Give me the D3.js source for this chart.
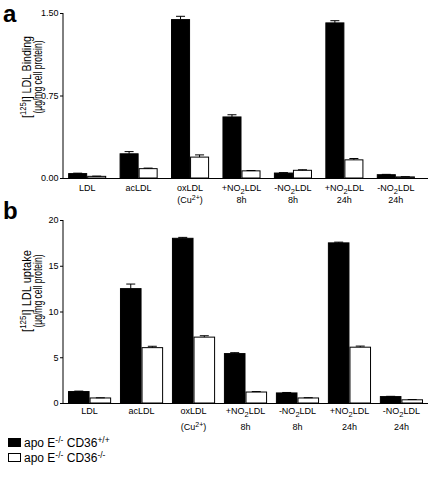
<!DOCTYPE html>
<html><head><meta charset="utf-8">
<script src="https://cdn.jsdelivr.net/npm/d3@7"></script>
<style>
body{margin:0;background:#fff;}
svg{font-family:"Liberation Sans",Arial,Helvetica,sans-serif;}
</style></head>
<body><svg id="c" width="430" height="488"></svg>
<script>
const categories = [
  {pre:"LDL", sub:"", post:"", line2:"", sup2:""},
  {pre:"acLDL", sub:"", post:"", line2:"", sup2:""},
  {pre:"oxLDL", sub:"", post:"", line2:"(Cu", sup2:"2+", line2post:")"},
  {pre:"+NO", sub:"2", post:"LDL", line2:"8h"},
  {pre:"-NO", sub:"2", post:"LDL", line2:"8h"},
  {pre:"+NO", sub:"2", post:"LDL", line2:"24h"},
  {pre:"-NO", sub:"2", post:"LDL", line2:"24h"}
];
const seriesNames = ["CD36+/+", "CD36-/-"];

// Panel a: [125I] LDL Binding
const bindingWT  = [0.04, 0.22, 1.44, 0.555, 0.045, 1.41, 0.03];
const bindingWTErr = [0.004, 0.02, 0.03, 0.02, 0.004, 0.02, 0.003];
const bindingKO  = [0.015, 0.085, 0.19, 0.065, 0.07, 0.165, 0.01];
const bindingKOErr = [0.002, 0.005, 0.02, 0.003, 0.005, 0.012, 0.002];
const ticksA = [0, 0.75, 1.5];

// Panel b: [125I] LDL uptake
const uptakeWT  = [1.25, 12.5, 18.0, 5.4, 1.1, 17.5, 0.7];
const uptakeWTErr = [0.05, 0.5, 0.1, 0.1, 0.05, 0.08, 0.03];
const uptakeKO  = [0.55, 6.05, 7.2, 1.2, 0.55, 6.1, 0.35];
const uptakeKOErr = [0.02, 0.15, 0.15, 0.05, 0.03, 0.12, 0.03];
const ticksB = [0, 5, 10, 15, 20];

const svg = d3.select("#c");

function fitRotated(sel, x, y, target){
  const w = sel.node().getComputedTextLength();
  const sx = target / w;
  sel.attr("transform",`translate(${x},${y}) rotate(-90) scale(${sx},1)`);
}

function panel(cfg){
  const g = svg.append("g");
  const y = d3.scaleLinear().domain(cfg.domain).range([cfg.y0, cfg.y1]);
  const x = d3.scaleBand().domain(d3.range(categories.length))
      .range(cfg.xrange).paddingInner(cfg.pin).paddingOuter(cfg.pout);
  const xs = d3.scaleBand().domain([0,1]).range([0, x.bandwidth()]);
  const axisX = 63;

  const series = [{v:cfg.wt, e:cfg.wtErr, fill:"#000"},{v:cfg.ko, e:cfg.koErr, fill:"#fff"}];
  series.forEach((s, si) => {
    const grp = g.append("g");
    grp.selectAll("rect").data(s.v).join("rect")
      .attr("x", (d,i)=>x(i)+xs(si)+0.5)
      .attr("y", d=>y(d))
      .attr("width", xs.bandwidth()-1)
      .attr("height", d=>y(0)-y(d))
      .attr("fill", s.fill).attr("stroke","#000").attr("stroke-width",1);
    grp.selectAll("line.err").data(s.v).join("line").attr("class","err")
      .attr("x1",(d,i)=>x(i)+xs(si)+xs.bandwidth()/2)
      .attr("x2",(d,i)=>x(i)+xs(si)+xs.bandwidth()/2)
      .attr("y1",d=>y(d)).attr("y2",(d,i)=>y(d+s.e[i]))
      .attr("stroke","#000").attr("stroke-width",1);
    grp.selectAll("line.cap").data(s.v).join("line").attr("class","cap")
      .attr("x1",(d,i)=>x(i)+xs(si)+xs.bandwidth()/2-4.5)
      .attr("x2",(d,i)=>x(i)+xs(si)+xs.bandwidth()/2+4.5)
      .attr("y1",(d,i)=>y(d+s.e[i])).attr("y2",(d,i)=>y(d+s.e[i]))
      .attr("stroke","#000").attr("stroke-width",1);
  });

  const ax = d3.axisLeft(y).tickValues(cfg.ticks).tickFormat(cfg.fmt).tickSize(3).tickPadding(1.5);
  const ag = g.append("g").attr("transform",`translate(${axisX},0)`).call(ax);
  ag.select(".domain").attr("d",`M0,${cfg.y1}V${cfg.y0}`);
  ag.selectAll("text").attr("font-size",9).attr("font-family","Liberation Sans, Arial, sans-serif");

  g.append("line").attr("x1",axisX).attr("x2",428).attr("y1",y(0)+0.5).attr("y2",y(0)+0.5)
    .attr("stroke","#000").attr("stroke-width",1);

  categories.forEach((c,i)=>{
    const cx = x(i)+x.bandwidth()/2;
    const t = g.append("text").attr("x",cx).attr("y",cfg.lab1).attr("text-anchor","middle").attr("font-size",9);
    t.append("tspan").text(c.pre);
    if(c.sub){ t.append("tspan").attr("dy",2.5).attr("font-size",7.5).text(c.sub);
               t.append("tspan").attr("dy",-2.5).text(c.post); }
    if(c.line2){
      const t2 = g.append("text").attr("x",cx).attr("y",cfg.lab2).attr("text-anchor","middle").attr("font-size",9);
      t2.append("tspan").text(c.line2);
      if(c.sup2){ t2.append("tspan").attr("dy",-3).attr("font-size",7).text(c.sup2);
                  t2.append("tspan").attr("dy",3).text(c.line2post); }
    }
  });

  const cy = cfg.titleY;
  const t1 = g.append("text").attr("text-anchor","middle").attr("font-size",12.5);
  t1.append("tspan").text("[");
  t1.append("tspan").attr("dy",-4.5).attr("font-size",9).text("125");
  t1.append("tspan").attr("dy",4.5).text("I] LDL " + cfg.title);
  fitRotated(t1, 30.5, cy, 82);
  const t2 = g.append("text").attr("text-anchor","middle").attr("font-size",12.5)
    .text("(\u00b5g/mg cell protein)");
  fitRotated(t2, 42, cy, 73);

  svg.append("text").attr("x",3).attr("y",cfg.letterY).attr("font-size",24)
    .attr("font-weight","bold").text(cfg.letter);
}

panel({domain:[0,1.5], y0:178, y1:13, ticks:ticksA, fmt:d3.format(".2f"),
  xrange:[63,420], pin:0.26, pout:0.1,
  wt:bindingWT, wtErr:bindingWTErr, ko:bindingKO, koErr:bindingKOErr,
  lab1:191, lab2:203, title:"Binding", titleY:77, letter:"a", letterY:22});

panel({domain:[0,20], y0:403, y1:220, ticks:ticksB, fmt:d3.format("d"),
  xrange:[63,428], pin:0.17, pout:0.096,
  wt:uptakeWT, wtErr:uptakeWTErr, ko:uptakeKO, koErr:uptakeKOErr,
  lab1:414, lab2:430, title:"uptake", titleY:291, letter:"b", letterY:219});

const legend = [
  {fill:"#000", sup1:"-/-", sup2:"+/+"},
  {fill:"#fff", sup1:"-/-", sup2:"-/-"}
];
legend.forEach((l,i)=>{
  const yy = 438 + i*15;
  svg.append("rect").attr("x",8.5).attr("y",yy+0.5).attr("width",12).attr("height",8)
    .attr("fill",l.fill).attr("stroke","#000").attr("stroke-width",1);
  const t = svg.append("text").attr("x",24).attr("y",yy+9).attr("font-size",12);
  t.append("tspan").text("apo E");
  t.append("tspan").attr("dy",-4).attr("font-size",8.5).text(l.sup1);
  t.append("tspan").attr("dy",4).text(" CD36");
  t.append("tspan").attr("dy",-4).attr("font-size",8.5).text(l.sup2);
});
</script></body></html>
